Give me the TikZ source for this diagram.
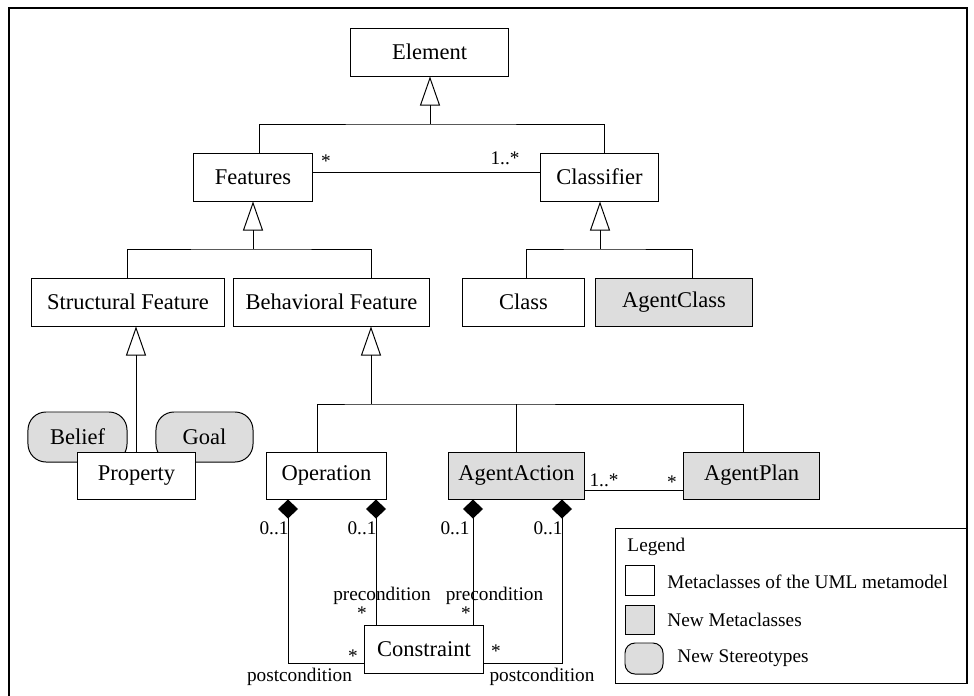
\documentclass[tikz,border=0pt]{standalone}
\usepackage{fontspec}
\setmainfont{Liberation Serif}
\usepackage{tikz}
\usetikzlibrary{arrows.meta}

\definecolor{newgray}{RGB}{221,221,221}
\newcommand{\boxfont}{\fontsize{16}{19}\selectfont}
\newcommand{\lblfont}{\fontsize{13.7}{16}\selectfont}

\tikzset{
  metaclass/.style={draw, fill=white, inner sep=0pt, minimum height=1.2cm, font=\boxfont},
  newclass/.style={metaclass, fill=newgray},
  stereo/.style={draw, fill=newgray, inner sep=0pt, rounded corners=0.45cm, minimum height=1.25cm, font=\boxfont},
  lbl/.style={inner sep=0pt, font=\lblfont},
  gen/.style={-{Triangle[open,length=0.725cm,width=0.5cm]}},
  comp/.style={{Diamond[length=0.475cm,width=0.5cm]}-}
}

\begin{document}
\begin{tikzpicture}[x=0.025cm, y=-0.025cm, line width=0.7pt]
\useasboundingbox (0,0) rectangle (974,696);
\draw[line width=0.8pt] (9,696) -- (9,8) -- (967,8) -- (967,683);

\node[metaclass, minimum width=3.925cm] (elem) at (429.5,52) {Element};
\node[metaclass, minimum width=2.95cm] (feat) at (253,177) {Features};
\node[metaclass, minimum width=2.925cm] (clsf) at (599.5,177) {Classifier};
\node[metaclass, minimum width=4.8cm] (stru) at (128,302) {Structural Feature};
\node[metaclass, minimum width=4.875cm] (behv) at (331.5,302) {Behavioral Feature};
\node[metaclass, minimum width=3.025cm] (cls) at (523.5,302) {Class};
\node[newclass, minimum width=3.9cm] (acls) at (674,302) {AgentClass};
\node[stereo, minimum width=2.475cm] (blf) at (77.5,437) {Belief};
\node[stereo, minimum width=2.425cm] (goal) at (204.5,437) {Goal};
\node[metaclass, minimum width=2.925cm, minimum height=1.175cm] (prop) at (136.5,475.5) {Property};
\node[metaclass, minimum width=2.975cm, minimum height=1.175cm] (oper) at (326.5,475.5) {Operation};
\node[newclass, minimum width=3.375cm, minimum height=1.175cm] (aact) at (516.5,475.5) {AgentAction};
\node[newclass, minimum width=3.375cm, minimum height=1.175cm] (aplan) at (751.5,475.5) {AgentPlan};
\node[metaclass, minimum width=2.95cm] (cons) at (424,649) {Constraint};

\coordinate (bus1) at (430,124);
\coordinate (bus2) at (253,249);
\coordinate (bus3) at (600,249);
\coordinate (bus4) at (371,404);

\draw (feat.north -| 259,0) |- (bus1) -| (clsf.north -| 604,0);
\draw[gen] (bus1) -- (elem.south -| bus1);
\draw (stru.north -| 127,0) |- (bus2) -| (behv.north -| 371,0);
\draw[gen] (bus2) -- (feat.south -| bus2);
\draw (cls.north -| 526,0) |- (bus3) -| (acls.north -| 692,0);
\draw[gen] (bus3) -- (clsf.south -| bus3);
\draw[gen] (prop.north -| 136,0) -- (stru.south -| 136,0);
\draw (oper.north -| 317,0) |- (bus4) -| (aplan.north -| 743,0);
\draw (aact.north) -- (aact.north |- bus4);
\draw[gen] (bus4) -- (behv.south -| bus4);

\draw (feat.east |- 0,172) -- (clsf.west |- 0,172);
\draw (aact.east |- 0,490) -- (aplan.west |- 0,490);

\draw[comp] (oper.south -| 288,0) |- (cons.west |- 0,663);
\draw[comp] (oper.south -| 376,0) -- (cons.north -| 376,0);
\draw[comp] (aact.south -| 473,0) -- (cons.north -| 473,0);
\draw[comp] (aact.south -| 562,0) |- (cons.east |- 0,663);

\node[lbl] (m1) at (326,161) {*};
\node[lbl] (m2) at (505,158) {1..*};
\node[lbl] (m3) at (604,480) {1..*};
\node[lbl] (m4) at (672,482) {*};
\node[lbl, anchor=east] (z1) at (289,528) {0..1};
\node[lbl, anchor=east] (z2) at (377,528) {0..1};
\node[lbl, anchor=east] (z3) at (470,528) {0..1};
\node[lbl, anchor=east] (z4) at (563,528) {0..1};
\node[lbl] (pre1) at (382,596) {precondition};
\node[lbl] (pre2) at (494.5,596) {precondition};
\node[lbl] (s1) at (362,613) {*};
\node[lbl] (s2) at (466,613) {*};
\node[lbl] (s3) at (353,656) {*};
\node[lbl] (s4) at (496,651) {*};
\node[lbl] (post1) at (299.5,677) {postcondition};
\node[lbl] (post2) at (542,677) {postcondition};

\draw (615,528) rectangle (967,683);
\node[lbl, anchor=west] (lgtitle) at (627,547) {Legend};
\node[draw, fill=white, minimum width=0.725cm, minimum height=0.75cm] (lgmeta) at (639.5,580) {};
\node[draw, fill=newgray, minimum width=0.725cm, minimum height=0.725cm] (lgnew) at (639.5,619.5) {};
\node[draw, fill=newgray, rounded corners=0.25cm, minimum width=0.95cm, minimum height=0.775cm] (lgster) at (644,658.5) {};
\node[lbl, anchor=west] (lgt1) at (667,582) {Metaclasses of the UML metamodel};
\node[lbl, anchor=west] (lgt2) at (667,620) {New Metaclasses};
\node[lbl, anchor=west] (lgt3) at (677,658) {New Stereotypes};
\end{tikzpicture}
\end{document}
